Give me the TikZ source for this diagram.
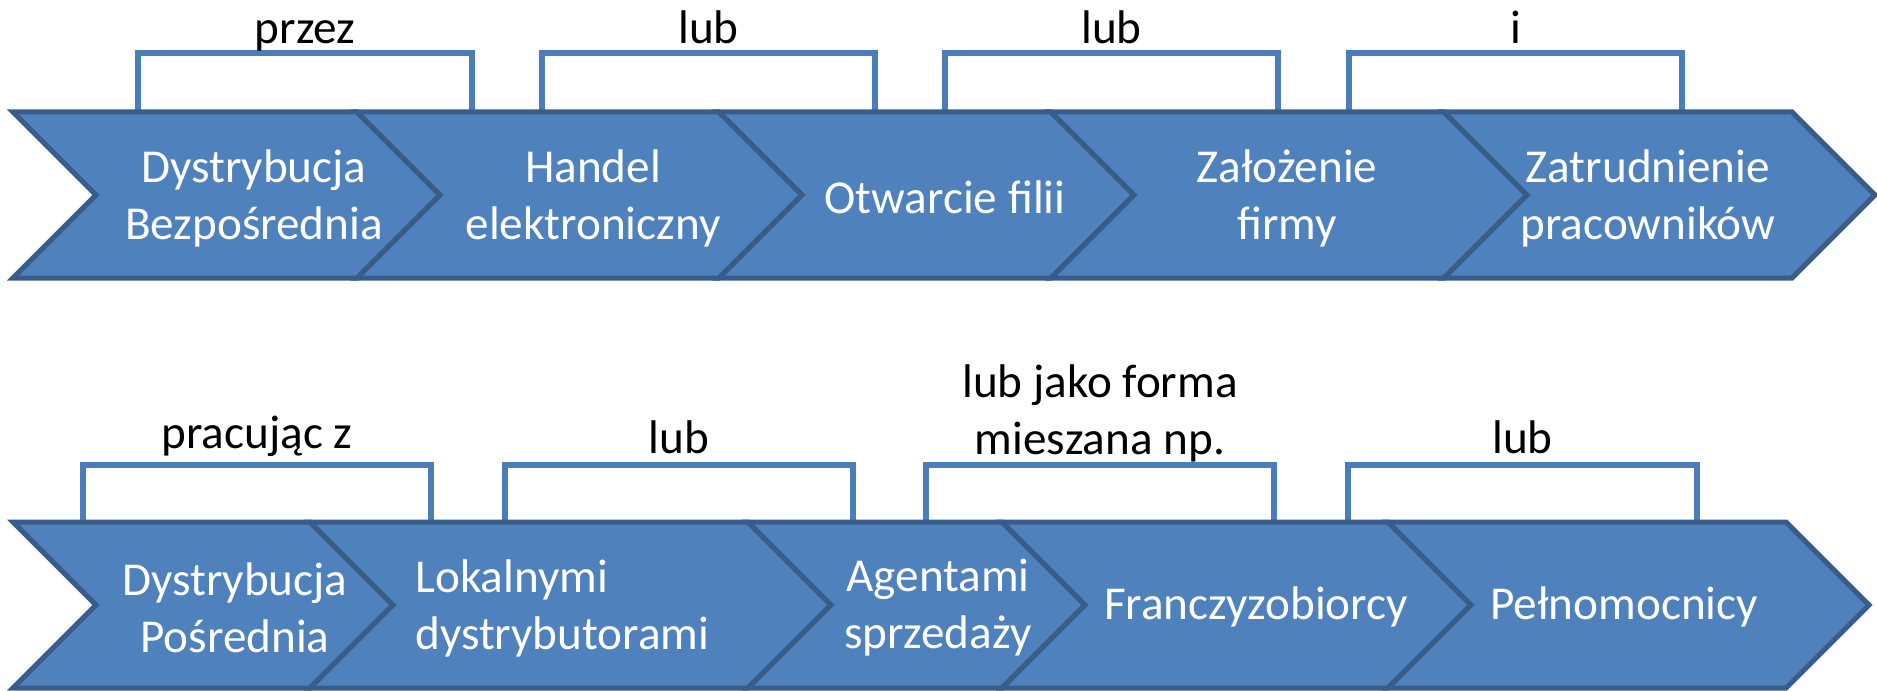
\documentclass[tikz,border=0pt]{standalone}
\usepackage{fontspec}
\setmainfont{Carlito}
\definecolor{chevfill}{HTML}{4F81BD}
\definecolor{chevline}{HTML}{385D8A}
\definecolor{brkline}{HTML}{4A7EBB}
\tikzset{
  chev/.style={fill=chevfill, draw=chevline, line width=2.5pt, line join=miter},
  brk/.style={draw=brkline, line width=3.25pt, line join=miter},
  lbl/.style={text=white, align=center, inner sep=0pt, font=\fontsize{23.6}{28.5}\selectfont},
  conj/.style={align=center, inner sep=0pt, anchor=base, font=\fontsize{23.6}{28.5}\selectfont}
}
\begin{document}
\begin{tikzpicture}[x=0.5pt,y=-0.5pt]
\useasboundingbox (0,0) rectangle (1877,690);
% top row: brackets, then chevrons
\foreach \a/\b/\t [count=\i] in {138/472/przez, 542/875/lub, 945/1278/lub, 1349/1682/i} {
  \draw[brk] (\a,112) -- (\a,53) -- (\b,53) -- (\b,112);
  \node[conj] (up\i) at ({(\a+\b)/2},44) {\t};
}
\foreach \l/\r in {13/357, 357/719, 719/1051, 1051/1444, 1444/1792}
  \draw[chev] (\l,112) -- (\r,112) -- (\r+83,195) -- (\r,278) -- (\l,278) -- (\l+83,195) -- cycle;
\node[lbl] (dbez) at (254,198) {Dystrybucja\\Bezpośrednia};
\node[lbl] (handel) at (593,198) {Handel\\elektroniczny};
\node[lbl] (filia) at (945,197) {Otwarcie filii};
\node[lbl] (firma) at (1287,198) {Założenie\\firmy};
\node[lbl] (prac) at (1648,198) {Zatrudnienie\\pracowników};

% bottom row
\foreach \a/\b/\t/\y [count=\i] in {83/431/{pracując z}/448, 505/853/lub/453, 926/1274/{lub jako forma\\mieszana np.}/454, 1348/1697/lub/453} {
  \draw[brk] (\a,522) -- (\a,465) -- (\b,465) -- (\b,522);
  \node[conj] (down\i) at ({(\a+\b)/2},\y) {\t};
}
\foreach \l/\r in {13/310, 310/748, 748/1002, 1002/1388, 1388/1786}
  \draw[chev] (\l,522) -- (\r,522) -- (\r+83,605) -- (\r,688) -- (\l,688) -- (\l+83,605) -- cycle;
\node[lbl] (dpos) at (235,608) {Dystrybucja\\Pośrednia};
\node[lbl, align=left, anchor=west] (lokal) at (415,608) {Lokalnymi\\dystrybutorami};
\node[lbl] (agent) at (938,608) {Agentami\\sprzedaży};
\node[lbl] (franc) at (1256,607) {Franczyzobiorcy};
\node[lbl] (pelno) at (1624,607) {Pełnomocnicy};
\end{tikzpicture}
\end{document}
